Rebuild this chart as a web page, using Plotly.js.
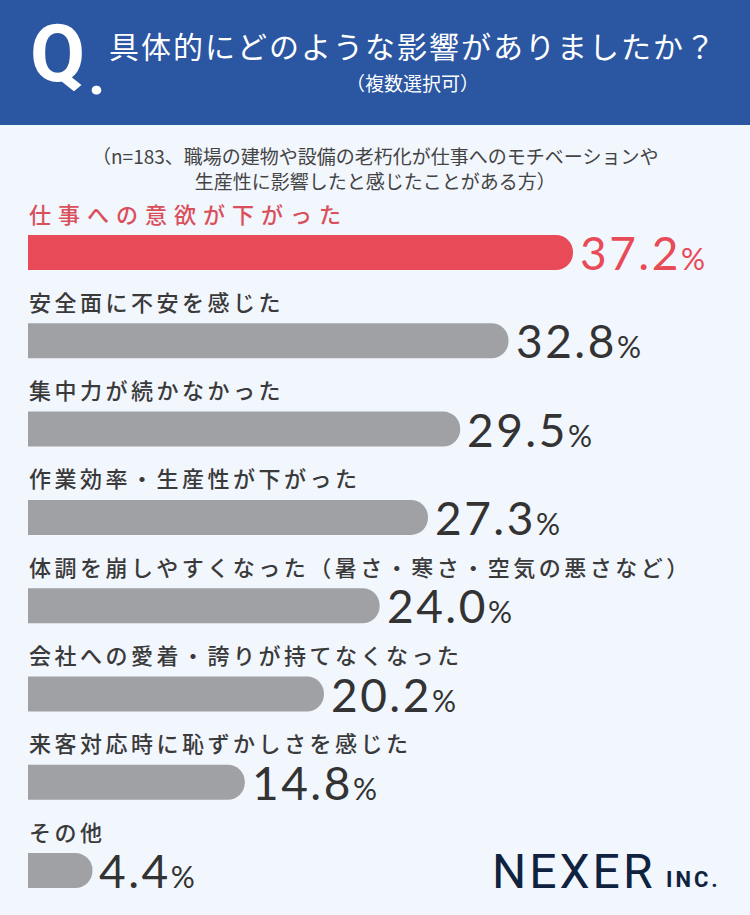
<!DOCTYPE html>
<html>
<head>
<meta charset="utf-8">
<script src="https://cdn.plot.ly/plotly-3.0.1.min.js"></script>
<style>
html,body{margin:0;padding:0;background:#f2f6fd;}
#chart{width:750px;height:915px;}
</style>
</head>
<body>
<div id="chart"></div>
<script>
const categories = [
  "仕事への意欲が下がった",
  "安全面に不安を感じた",
  "集中力が続かなかった",
  "作業効率・生産性が下がった",
  "体調を崩しやすくなった（暑さ・寒さ・空気の悪さなど）",
  "会社への愛着・誇りが持てなくなった",
  "来客対応時に恥ずかしさを感じた",
  "その他"
];
const values = [37.2, 32.8, 29.5, 27.3, 24.0, 20.2, 14.8, 4.4];
const titleText = "具体的にどのような影響がありましたか？";
const subTitleText = "（複数選択可）";
const noteText = "（n=183、職場の建物や設備の老朽化が仕事へのモチベーションや<br>生産性に影響したと感じたことがある方）";

const W = 750, H = 915;
const RED = "#e84a58", GRAY = "#a0a1a5", DARK = "#333333";
const JP = "'Noto Sans CJK JP', 'Noto Sans', sans-serif";
const NUM = "Lato, Roboto, sans-serif";

const barColors = values.map((v, i) => i === 0 ? RED : GRAY);

// vertical geometry
const firstCenter = 252.5, step = 88.3;
const yTop = -firstCenter / step;
const yBottom = yTop + H / step;

const trace = {
  type: "bar",
  orientation: "h",
  x: values,
  y: categories,
  width: 35 / step,
  marker: { color: barColors, cornerradius: "50%", line: { width: 0 } },
  hoverinfo: "skip"
};

const annotations = [];
categories.forEach((c, i) => {
  const sp = i === 0 ? 7 : 3.5;
  annotations.push({
    x: 0, y: c, xref: "x", yref: "y",
    xanchor: "left", yanchor: "middle",
    yshift: 40, xshift: -1,
    showarrow: false,
    text: '<span style="letter-spacing:' + sp + 'px">' + c + '</span>',
    font: { family: JP, size: 22, weight: 500, color: i === 0 ? "#d9505c" : "#3a3a3a" }
  });
  annotations.push({
    x: values[i], y: c, xref: "x", yref: "y",
    xanchor: "left", yanchor: "middle",
    xshift: 5, yshift: 0,
    showarrow: false,
    text: '<span style="letter-spacing:2.5px">' + values[i].toFixed(1) + '</span><span style="font-size:30px">%</span>',
    font: { family: NUM, size: 46, color: i === 0 ? RED : DARK }
  });
});

// header texts
annotations.push({
  xref: "paper", yref: "paper", x: 28 / W, y: 1 - 54 / H,
  xanchor: "left", yanchor: "middle", showarrow: false,
  text: "<b>Q</b>", font: { family: "Roboto, sans-serif", size: 80, color: "#ffffff" }
});
annotations.push({
  xref: "paper", yref: "paper", x: 86 / W, y: 1 - 73 / H,
  xanchor: "left", yanchor: "middle", showarrow: false,
  text: "<b>.</b>", font: { family: "Roboto, sans-serif", size: 60, color: "#ffffff" }
});
annotations.push({
  xref: "paper", yref: "paper", x: 413 / W, y: 1 - 45 / H,
  xanchor: "center", yanchor: "middle", showarrow: false,
  text: '<span style="letter-spacing:2px">' + titleText + '</span>',
  font: { family: JP, size: 30, color: "#ffffff" }
});
annotations.push({
  xref: "paper", yref: "paper", x: 412 / W, y: 1 - 82 / H,
  xanchor: "center", yanchor: "middle", showarrow: false,
  text: subTitleText,
  font: { family: JP, size: 19, color: "#ffffff" }
});
annotations.push({
  xref: "paper", yref: "paper", x: 375 / W, y: 1 - 168 / H,
  xanchor: "center", yanchor: "middle", showarrow: false,
  text: noteText, align: "center",
  font: { family: JP, size: 19, color: "#444444" }
});
// logo
annotations.push({
  xref: "paper", yref: "paper", x: 490 / W, y: 1 - 871 / H,
  xanchor: "left", yanchor: "middle", showarrow: false,
  text: '<span style="letter-spacing:3px">NEXER</span>',
  font: { family: "Roboto, sans-serif", size: 48, color: "#0f2340" }
});
annotations.push({
  xref: "paper", yref: "paper", x: 664 / W, y: 1 - 879 / H,
  xanchor: "left", yanchor: "middle", showarrow: false,
  text: '<b><span style="letter-spacing:3px">INC.</span></b>',
  font: { family: "Roboto, sans-serif", size: 22, color: "#0f2340" }
});

const layout = {
  width: W, height: H,
  margin: { l: 0, r: 0, t: 0, b: 0, pad: 0 },
  paper_bgcolor: "#f2f6fd",
  plot_bgcolor: "rgba(0,0,0,0)",
  showlegend: false,
  xaxis: {
    domain: [28 / W, 614 / W],
    range: [0, 40],
    showgrid: false, zeroline: false, showticklabels: false, showline: false, ticks: ""
  },
  yaxis: {
    domain: [0, 1],
    range: [yBottom, yTop],
    showgrid: false, zeroline: false, showticklabels: false, showline: false, ticks: ""
  },
  shapes: [{
    type: "rect", xref: "paper", yref: "paper",
    x0: 0, x1: 1, y0: 1 - 125 / H, y1: 1,
    fillcolor: "#2a56a2", line: { width: 0 }, layer: "below"
  }],
  annotations: annotations
};

Plotly.newPlot("chart", [trace], layout, { staticPlot: true, displayModeBar: false });
</script>
</body>
</html>
